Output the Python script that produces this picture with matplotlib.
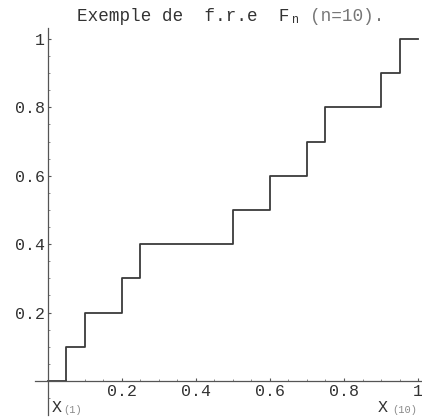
import numpy as np
import matplotlib
matplotlib.use("Agg")
import matplotlib.pyplot as plt
from matplotlib.ticker import MultipleLocator

# ordered sample X(1) ... X(10)
sample = [0.05, 0.10, 0.20, 0.25, 0.50, 0.60, 0.70, 0.75, 0.90, 0.95]
x_ticks = [0.2, 0.4, 0.6, 0.8, 1.0]
x_ticklabels = ["0.2", "0.4", "0.6", "0.8", "1"]
y_ticks = [0.2, 0.4, 0.6, 0.8, 1.0]
y_ticklabels = ["0.2", "0.4", "0.6", "0.8", "1"]

n = len(sample)
heights = np.arange(1, n + 1) / n

mono = "Liberation Mono"
ink = "#333333"
px = 0.72  # points per pixel at dpi 100

fig = plt.figure(figsize=(4.22, 4.20), dpi=100)
ax = fig.add_axes([35 / 422, 5 / 420, 387 / 422, 387 / 420])
ax.set_xlim(-0.0351, 1.0108)
ax.set_ylim(-0.0994, 1.032)

# empirical distribution function, drawn as a staircase
xs = [0.0] + sample + [1.0]
ys = [0.0] + list(heights) + [heights[-1]]
ax.step(xs, ys, where="post", color="#3a3a3a", lw=1.3)

for side in ("top", "right"):
    ax.spines[side].set_visible(False)
for side in ("left", "bottom"):
    ax.spines[side].set_position(("data", 0))
    ax.spines[side].set_color("#555555")
    ax.spines[side].set_linewidth(0.9)

ax.set_xticks(x_ticks)
ax.set_xticklabels(x_ticklabels)
ax.set_yticks(y_ticks)
ax.set_yticklabels(y_ticklabels)
ax.xaxis.set_minor_locator(MultipleLocator(0.05))
ax.yaxis.set_minor_locator(MultipleLocator(0.05))
ax.tick_params(which="major", direction="in", length=2.5, width=0.8, color="#555555")
ax.tick_params(which="minor", direction="in", length=1.2, width=0.6, color="#777777")
ax.tick_params(axis="x", which="major", pad=2)
ax.tick_params(axis="y", which="major", pad=2)
for lab in ax.get_xticklabels() + ax.get_yticklabels():
    lab.set_fontfamily(mono)
    lab.set_fontsize(12)
    lab.set_color(ink)

# order statistic labels under the axis
def order_label(x, sub, dx_x, dx_sub):
    ax.annotate("X", xy=(x, 0), xytext=(dx_x * px, -19 * px), textcoords="offset points",
                ha="right", va="top", fontfamily=mono, fontsize=12, color=ink)
    ax.annotate(sub, xy=(x, 0), xytext=(dx_sub * px, -24 * px), textcoords="offset points",
                ha="left", va="top", fontfamily=mono, fontsize=7.5, color="#8a8a8a")

order_label(sample[0], "(1)", -4.5, -3.5)
order_label(sample[-1], "(10)", -11.5, -7.5)

# title pieces
fig.text(77 / 422, 1 - 21 / 420, "Exemple de  f.r.e  F", fontfamily=mono,
         fontsize=12.7, color=ink, va="baseline", ha="left")
fig.text(291 / 422, 1 - 23 / 420, "n", fontfamily=mono, fontsize=8.5,
         color=ink, va="baseline", ha="left")
fig.text(310 / 422, 1 - 21 / 420, "(n=10).", fontfamily=mono, fontsize=12.7,
         color="#777777", va="baseline", ha="left")

fig.savefig("out.png", dpi=100)
